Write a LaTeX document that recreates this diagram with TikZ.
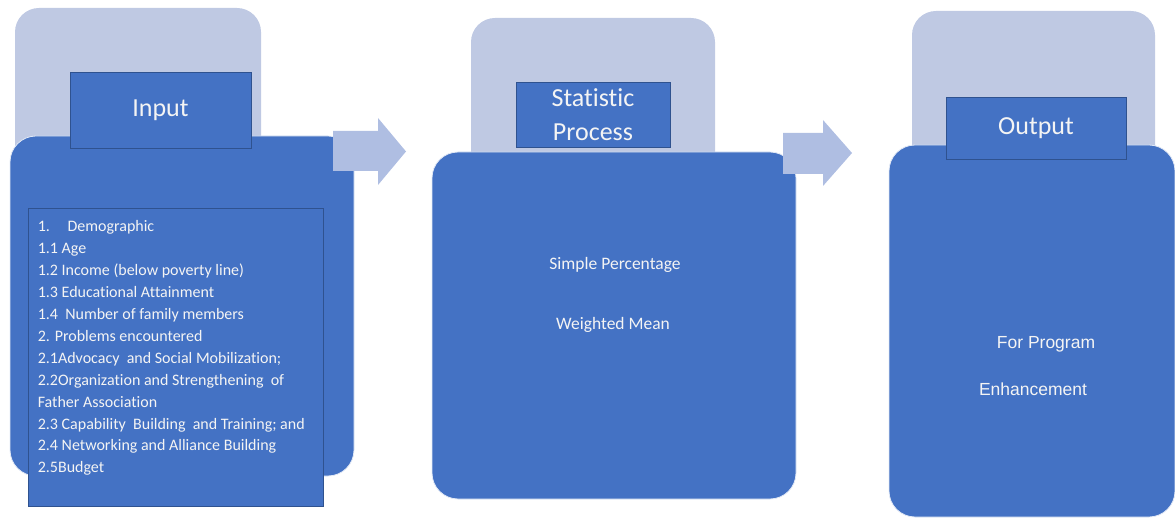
\documentclass[tikz,border=0pt]{standalone}
\usepackage{fontspec}
\setmainfont{Carlito}[Ligatures={NoCommon}]
\newfontfamily\arialfont{Liberation Sans}
\usetikzlibrary{positioning}
\definecolor{mainblue}{HTML}{4472C4}
\definecolor{paleblue}{HTML}{BFC9E3}
\definecolor{arrowblue}{HTML}{AFBEE2}
\definecolor{edgeblue}{HTML}{2F528F}
\definecolor{textwhite}{HTML}{F4F4F4}
\tikzset{
  x=1pt, y=-1pt,
  backbox/.style={fill=paleblue, draw=none, rounded corners=24pt, inner sep=0pt},
  frontbox/.style={fill=mainblue, draw=white!85!mainblue, line width=0.8pt, rounded corners=26pt, inner sep=0pt},
  titlebox/.style={fill=mainblue, draw=edgeblue, line width=0.8pt, inner sep=0pt, text=textwhite,
    font=\fontsize{26}{35}\selectfont, align=center},
  listbox/.style={fill=mainblue, draw=edgeblue, line width=0.8pt, inner sep=0pt},
  bodytext/.style={text=textwhite, inner sep=0pt, font=\fontsize{16}{21.9}\selectfont, align=left},
  plaintext/.style={text=textwhite, inner sep=0pt, font=\fontsize{17.5}{20}\selectfont},
  flowarrow/.style={fill=arrowblue, draw=none},
}
\begin{document}
\begin{tikzpicture}
\useasboundingbox (0,0) rectangle (1175,518);

% ---- Input column ----
\node[backbox, minimum width=246pt, minimum height=192pt] (inback) at (138,104) {};
\node[frontbox, minimum width=344pt, minimum height=340pt] (infront) at (182,306) {};
\node[titlebox, minimum width=181pt, minimum height=76pt] (intitle) at (160.5,110) {Input};
\node[listbox, minimum width=295pt, minimum height=298pt] (inlist) at (175.5,357) {};
\node[bodytext, anchor=north west] (initems) at ([xshift=10pt,yshift=-13pt]inlist.north west) {%
1.\hspace{1.1em}Demographic\\
1.1 Age\\
1.2 Income (below poverty line)\\
1.3 Educational Attainment\\
1.4\ \ Number of family members\\
2. Problems encountered\\
2.1Advocacy\ \ and Social Mobilization;\\
2.2Organization and Strengthening\ \ of\\
Father Association\\
2.3 Capability\ \ Building\ \ and Training; and\\
2.4 Networking and Alliance Building\\
2.5Budget};

% ---- Statistic process column ----
\node[backbox, minimum width=244pt, minimum height=182pt] (stback) at (593,109) {};
\node[frontbox, minimum width=364pt, minimum height=347pt] (stfront) at (614,325.5) {};
\node[titlebox, minimum width=154pt, minimum height=65pt] (sttitle) at (593,114.5) {Statistic\\[-1pt]Process};
\node[plaintext] (stone) at (615,265) {Simple Percentage};
\node[plaintext] (sttwo) at (613,325) {Weighted Mean};

% ---- Output column ----
\node[backbox, minimum width=243pt, minimum height=189pt] (outback) at (1033.5,105.5) {};
\node[frontbox, minimum width=286pt, minimum height=372pt] (outfront) at (1032,331) {};
\node[titlebox, minimum width=180pt, minimum height=62pt] (outtitle) at (1036,128) {Output};
\node[plaintext, font=\arialfont\fontsize{17.5}{20}\selectfont] (outone) at (1046,344) {For Program};
\node[plaintext, font=\arialfont\fontsize{17.5}{20}\selectfont] (outtwo) at (1033,389) {Enhancement};

% ---- block arrows between the columns ----
\fill[flowarrow] (333,131) -- (378,131) -- (378,118) -- (406,151.5)
  -- (378,185) -- (378,171) -- (333,171) -- cycle;
\fill[flowarrow] (783,133) -- (823,133) -- (823,120) -- (852,153)
  -- (823,186) -- (823,174) -- (783,174) -- cycle;
\end{tikzpicture}
\end{document}
